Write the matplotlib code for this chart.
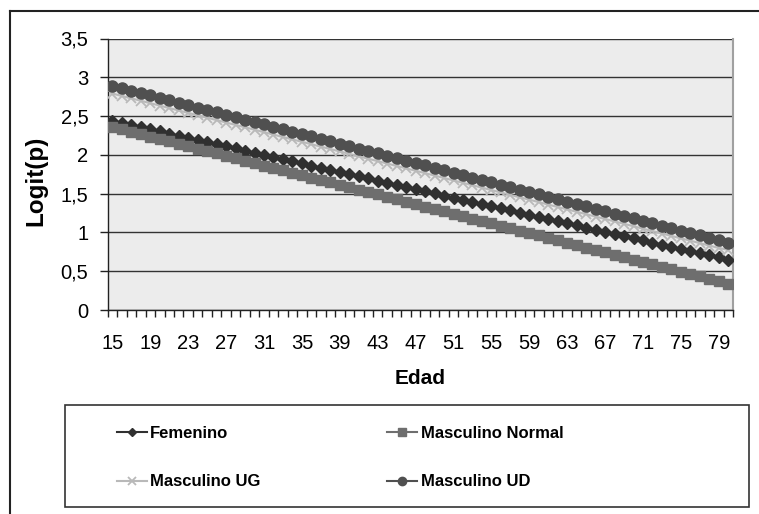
import matplotlib
matplotlib.use("Agg")
import matplotlib.pyplot as plt
from matplotlib.lines import Line2D
from matplotlib.patches import Rectangle

plt.rcParams['font.family'] = ['Liberation Sans', 'DejaVu Sans']

# edades 15..80
edades = list(range(15, 81))

femenino = [2.440, 2.412, 2.385, 2.357, 2.330, 2.302, 2.275, 2.247, 2.220, 2.192,
            2.165, 2.137, 2.110, 2.082, 2.054, 2.027, 1.999, 1.972, 1.944, 1.917,
            1.889, 1.862, 1.834, 1.807, 1.779, 1.752, 1.724, 1.696, 1.669, 1.641,
            1.614, 1.586, 1.559, 1.531, 1.504, 1.476, 1.449, 1.421, 1.394, 1.366,
            1.338, 1.311, 1.283, 1.256, 1.228, 1.201, 1.173, 1.146, 1.118, 1.091,
            1.063, 1.035, 1.008, 0.980, 0.953, 0.925, 0.898, 0.870, 0.843, 0.815,
            0.788, 0.760, 0.733, 0.705, 0.677, 0.650]

masc_normal = [2.360, 2.329, 2.298, 2.267, 2.236, 2.205, 2.173, 2.142, 2.111, 2.080,
               2.049, 2.018, 1.987, 1.956, 1.925, 1.894, 1.862, 1.831, 1.800, 1.769,
               1.738, 1.707, 1.676, 1.645, 1.614, 1.583, 1.551, 1.520, 1.489, 1.458,
               1.427, 1.396, 1.365, 1.334, 1.303, 1.272, 1.240, 1.209, 1.178, 1.147,
               1.116, 1.085, 1.054, 1.023, 0.992, 0.961, 0.929, 0.898, 0.867, 0.836,
               0.805, 0.774, 0.743, 0.712, 0.681, 0.650, 0.618, 0.587, 0.556, 0.525,
               0.494, 0.463, 0.432, 0.401, 0.370, 0.339]

masc_ug = [2.790, 2.759, 2.728, 2.697, 2.666, 2.635, 2.603, 2.572, 2.541, 2.510,
           2.479, 2.448, 2.417, 2.386, 2.355, 2.324, 2.292, 2.261, 2.230, 2.199,
           2.168, 2.137, 2.106, 2.075, 2.044, 2.013, 1.981, 1.950, 1.919, 1.888,
           1.857, 1.826, 1.795, 1.764, 1.733, 1.702, 1.670, 1.639, 1.608, 1.577,
           1.546, 1.515, 1.484, 1.453, 1.422, 1.391, 1.359, 1.328, 1.297, 1.266,
           1.235, 1.204, 1.173, 1.142, 1.111, 1.080, 1.048, 1.017, 0.986, 0.955,
           0.924, 0.893, 0.862, 0.831, 0.800, 0.775]

masc_ud = [2.890, 2.859, 2.828, 2.797, 2.766, 2.735, 2.703, 2.672, 2.641, 2.610,
           2.579, 2.548, 2.517, 2.486, 2.455, 2.424, 2.392, 2.361, 2.330, 2.299,
           2.268, 2.237, 2.206, 2.175, 2.144, 2.113, 2.081, 2.050, 2.019, 1.988,
           1.957, 1.926, 1.895, 1.864, 1.833, 1.802, 1.770, 1.739, 1.708, 1.677,
           1.646, 1.615, 1.584, 1.553, 1.522, 1.491, 1.459, 1.428, 1.397, 1.366,
           1.335, 1.304, 1.273, 1.242, 1.211, 1.180, 1.148, 1.117, 1.086, 1.055,
           1.024, 0.993, 0.962, 0.931, 0.900, 0.869]

y_ticks = [0, 0.5, 1, 1.5, 2, 2.5, 3, 3.5]
y_labels = ["0", "0,5", "1", "1,5", "2", "2,5", "3", "3,5"]

fig = plt.figure(figsize=(7.59, 5.14), dpi=100)
ax = fig.add_axes([107.7 / 759, 1 - 310 / 514, (733 - 107.7) / 759, (310 - 38.5) / 514])
ax.set_facecolor("#ececec")

pos = list(range(len(edades)))
l_fem, = ax.plot(pos, femenino, color="#303030", lw=1.5, marker="D", ms=6, label="Femenino", zorder=3)
l_nor, = ax.plot(pos, masc_normal, color="#6e6e6e", lw=1.5, marker="s", ms=7.5, label="Masculino Normal", zorder=3)
l_ug, = ax.plot(pos, masc_ug, color="#b9b9b9", lw=1.5, marker="x", ms=7, mew=1.3, label="Masculino UG", zorder=3)
l_ud, = ax.plot(pos, masc_ud, color="#505050", lw=1.5, marker="o", ms=8, label="Masculino UD", zorder=3)

ax.set_xlim(-0.5, len(edades) - 0.5)
ax.set_ylim(0, 3.5)

ax.set_yticks(y_ticks)
ax.set_yticklabels(y_labels, fontsize=14.5)
ax.yaxis.grid(True, color="#333333", lw=1)
ax.set_axisbelow(True)
ax.tick_params(axis="y", direction="out", length=6, width=1, color="#222222", pad=8)

# marcas en los limites de cada categoria, etiquetas cada 4 edades
ax.set_xticks([i - 0.5 for i in range(len(edades) + 1)])
ax.set_xticklabels([])
ax.tick_params(axis="x", which="major", direction="out", length=5, width=1, color="#222222")
lab_pos = [i for i in pos if (edades[i] - 15) % 4 == 0]
ax.set_xticks(lab_pos, minor=True)
ax.set_xticklabels([str(edades[i]) for i in lab_pos], minor=True, fontsize=14.5)
ax.tick_params(axis="x", which="minor", length=0, pad=17)

for s in ["left", "bottom"]:
    ax.spines[s].set_color("#222222")
    ax.spines[s].set_linewidth(1)
ax.spines["top"].set_visible(False)
ax.spines["right"].set_color("#a0a0a0")
ax.spines["right"].set_linewidth(1.5)

ax.set_xlabel("Edad", fontsize=15, fontweight="bold", labelpad=12)
ax.set_ylabel("Logit(p)", fontsize=17.5, fontweight="bold")
ax.yaxis.set_label_coords(-0.097, 0.475)

# caja de la leyenda
fig.add_artist(Rectangle((65 / 759, 1 - 507 / 514), 684 / 759, 102 / 514, transform=fig.transFigure,
                         fill=False, edgecolor="#333333", lw=1.2))
leg = fig.legend([l_fem, l_ug, l_nor, l_ud],
                 ["Femenino", "Masculino UG", "Masculino Normal", "Masculino UD"],
                 loc="upper left", ncol=2, bbox_to_anchor=(117 / 759, 1 - 426 / 514),
                 prop={"weight": "bold", "size": 12}, frameon=False,
                 handlelength=1.8, handletextpad=0.2, labelspacing=2.0, borderaxespad=0,
                 borderpad=0, columnspacing=7.6, markerscale=0.75)

# marco exterior (cortado a derecha y abajo)
fig.add_artist(Line2D([9.5 / 759, 1], [1 - 11 / 514, 1 - 11 / 514], color="#222222", lw=1.5))
fig.add_artist(Line2D([9.5 / 759, 9.5 / 759], [0, 1 - 11 / 514], color="#222222", lw=1.5))

fig.savefig("out.png", dpi=100)
